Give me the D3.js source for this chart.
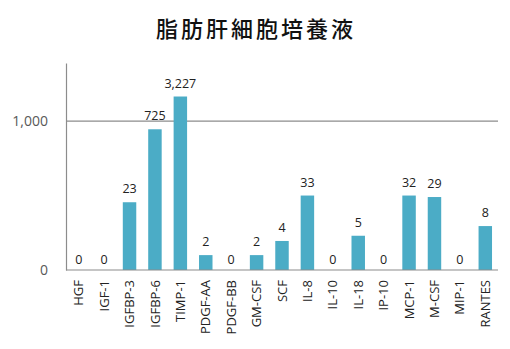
<!DOCTYPE html>
<html><head><meta charset="utf-8">
<script src="https://cdn.jsdelivr.net/npm/d3@7"></script>
<style>body{margin:0;background:#fff;} svg{display:block;}</style>
</head><body>
<svg id="c" width="510" height="349"></svg>
<script>
const categories = ["HGF","IGF-1","IGFBP-3","IGFBP-6","TIMP-1","PDGF-AA","PDGF-BB","GM-CSF","SCF","IL-8","IL-10","IL-18","IP-10","MCP-1","M-CSF","MIP-1","RANTES"];
const barValues = [0,0,455,945,1165,100,0,100,195,500,0,230,0,500,490,0,295];
const valueLabels = ["0","0","23","725","3,227","2","0","2","4","33","0","5","0","32","29","0","8"];
const yTicks = [0,1000];
const title = "脂肪肝細胞培養液";

const svg = d3.select("#c");
const m = {l:66, r:12, t:63, b:79};
const W = 510, H = 349;
const x = d3.scaleBand().domain(categories).range([m.l, W - m.r]).paddingInner(0.47).paddingOuter(0.235);
const y = d3.scaleLinear().domain([0,1390]).range([H - m.b, m.t]);

svg.append("text").attr("x",256).attr("y",37).attr("text-anchor","middle")
  .attr("font-family","'Noto Sans CJK JP'").attr("font-size",22).attr("font-weight",500)
  .attr("letter-spacing",3).attr("fill","#111").text(title);

// gridline
svg.append("g").selectAll("line").data(yTicks.filter(d=>d>0)).join("line")
  .attr("x1",m.l).attr("x2",W-m.r).attr("y1",d=>y(d)).attr("y2",d=>y(d))
  .attr("stroke","#8c8c8c").attr("stroke-width",1.2);

// y axis
const ya = svg.append("g").attr("transform",`translate(${m.l},0)`)
  .call(d3.axisLeft(y).tickValues(yTicks).tickFormat(d3.format(",")).tickSize(0).tickPadding(18));
ya.select(".domain").attr("stroke","#8c8c8c").attr("stroke-width",1.2);
ya.selectAll("text").attr("font-family","'Open Sans', sans-serif").attr("font-size",14).attr("fill","#595959");

// bars
svg.append("g").selectAll("rect").data(categories).join("rect")
  .attr("x",d=>x(d)).attr("width",x.bandwidth())
  .attr("y",(d,i)=>y(barValues[i])).attr("height",(d,i)=>y(0)-y(barValues[i]))
  .attr("fill","#4BACC6");

// value labels
svg.append("g").selectAll("text").data(categories).join("text")
  .attr("x",d=>x(d)+x.bandwidth()/2).attr("y",(d,i)=>y(barValues[i])-(barValues[i]>0?9:6))
  .attr("text-anchor","middle").attr("font-family","'Open Sans', sans-serif").attr("font-size",12.5)
  .attr("fill","#222").text((d,i)=>valueLabels[i]);

// x axis
const xa = svg.append("g").attr("transform",`translate(0,${y(0)})`)
  .call(d3.axisBottom(x).tickSize(0).tickPadding(0));
xa.select(".domain").attr("stroke","#8c8c8c").attr("stroke-width",1.2).attr("d",`M${m.l},0H${W-m.r}`);
xa.selectAll("text").attr("font-family","'Open Sans', sans-serif").attr("font-size",13).attr("fill","#222")
  .attr("transform","rotate(-90)").attr("text-anchor","end").attr("dy","0.35em").attr("x",-10).attr("y",0);
</script>
</body></html>
